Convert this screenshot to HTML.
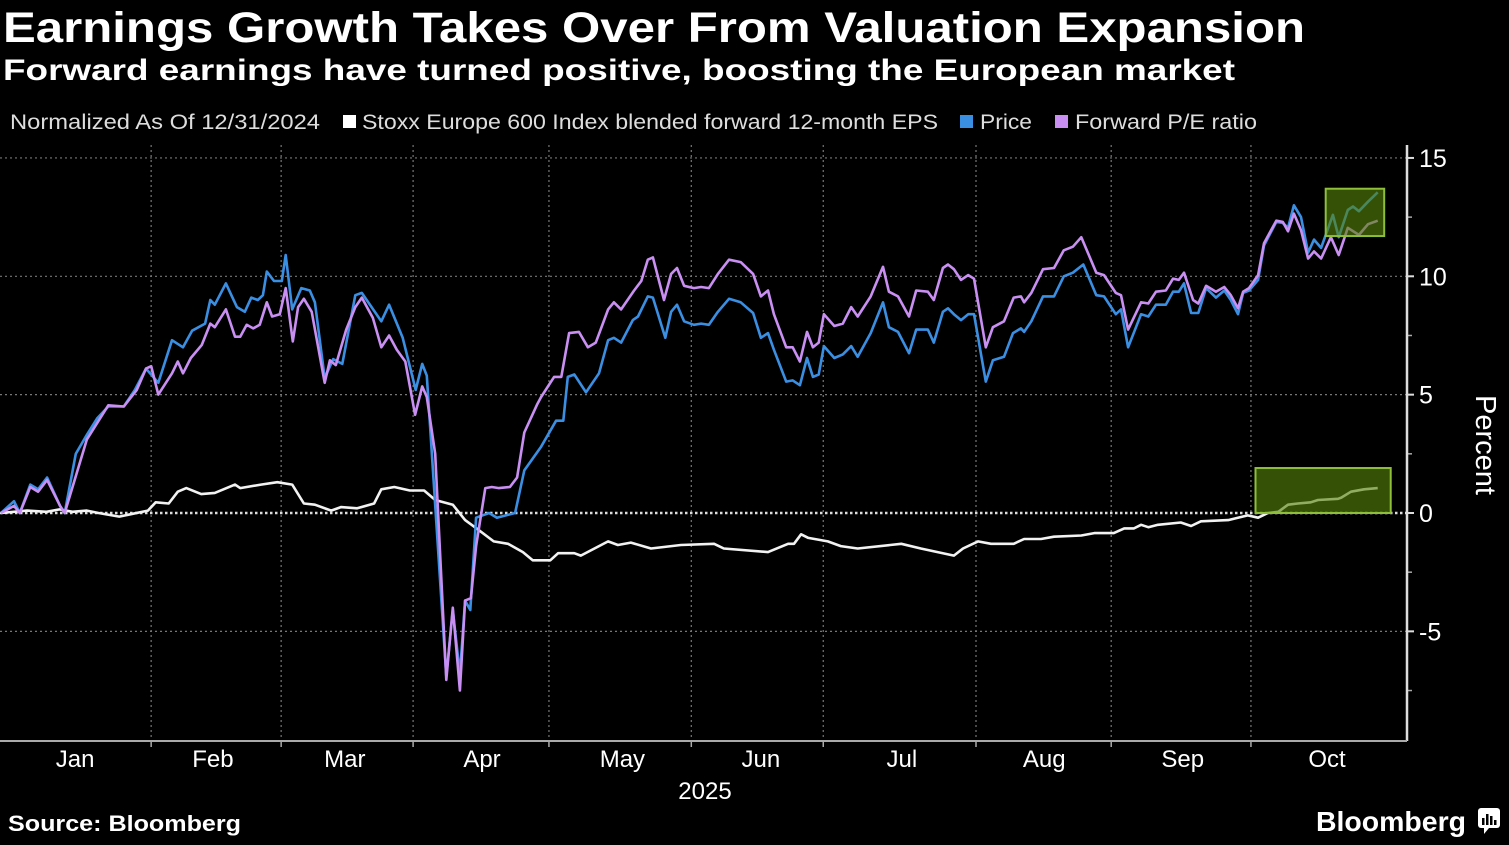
<!DOCTYPE html>
<html><head><meta charset="utf-8"><style>
html,body{margin:0;padding:0;background:#000;}
svg{display:block;font-family:"Liberation Sans",sans-serif;}
</style></head><body>
<svg id="chart" width="1509" height="845" viewBox="0 0 1509 845" xmlns="http://www.w3.org/2000/svg">
<rect x="0" y="0" width="1509" height="845" fill="#000"/>
<text x="3" y="42" fill="#fff" font-size="43" font-weight="bold" textLength="1302" lengthAdjust="spacingAndGlyphs">Earnings Growth Takes Over From Valuation Expansion</text>
<text x="3" y="80" fill="#fff" font-size="30" font-weight="bold" textLength="1232" lengthAdjust="spacingAndGlyphs">Forward earnings have turned positive, boosting the European market</text>
<g font-size="21" fill="#ddd">
<text x="10" y="129" textLength="310" lengthAdjust="spacingAndGlyphs">Normalized As Of 12/31/2024</text>
<rect x="343" y="115" width="13" height="13" fill="#fff"/>
<text x="362" y="129" textLength="576" lengthAdjust="spacingAndGlyphs">Stoxx Europe 600 Index blended forward 12-month EPS</text>
<rect x="960" y="115" width="13" height="13" fill="#3b8fe3"/>
<text x="980" y="129" textLength="52" lengthAdjust="spacingAndGlyphs">Price</text>
<rect x="1055" y="115" width="13" height="13" fill="#c98ff2"/>
<text x="1075" y="129" textLength="182" lengthAdjust="spacingAndGlyphs">Forward P/E ratio</text>
</g>
<g id="grid"></g>
<g id="series"></g>
<g id="overlay"></g>
<g id="axes"></g>
<text transform="translate(1476,445) rotate(90)" text-anchor="middle" fill="#fff" font-size="29">Percent</text>
<text x="705" y="799" text-anchor="middle" fill="#fff" font-size="24">2025</text>
<text x="8" y="831" fill="#fff" font-size="22" font-weight="bold" textLength="233" lengthAdjust="spacingAndGlyphs">Source: Bloomberg</text>
<text x="1316" y="831" fill="#fff" font-size="28" font-weight="bold" textLength="150" lengthAdjust="spacingAndGlyphs">Bloomberg</text>
<g>
<rect x="1478" y="808" width="22" height="20" rx="3" fill="#fff"/>
<path d="M1484 828 L1484 834 L1489 828 Z" fill="#fff"/>
<rect x="1482" y="818" width="2.5" height="7" fill="#000"/><rect x="1486" y="814" width="2.5" height="11" fill="#000"/><rect x="1490" y="816" width="2.5" height="9" fill="#000"/><rect x="1494" y="820" width="2.5" height="5" fill="#000"/>
</g>
</svg>
<script>
// Time in trading days since 12/31/2024
const monthStarts = [23.1, 43.1, 63.4, 84.3, 106.2, 126.5, 150, 170.8, 192.3];
const monthLabels = ["Jan","Feb","Mar","Apr","May","Jun","Jul","Aug","Sep","Oct"];
const monthLabelDays = [11.4, 32.6, 52.9, 74, 95.6, 116.9, 138.6, 160.5, 181.8, 204];
const yTicks = [15, 10, 5, 0, -5];
const yMinorTicks = [12.5, 7.5, 2.5, -2.5, -7.5];

const priceDays = [0,2,2.9,4.5,5.7,7.1,9.1,9.8,11.5,13.2,14.8,16.5,18.9,20.6,22.3,24.2,26.3,28,29.4,31.4,32.2,32.9,34.6,36.3,37.5,38.5,39.5,40.3,40.9,42,43.2,43.8,44.8,46.2,47.5,48.3,49.8,51.1,52.5,54.5,55.5,58.5,59.7,61.8,63.8,64.8,65.5,68.5,69.5,70.6,71.4,72.2,73.1,75.1,76.3,79.1,80.5,83.1,85.4,86.5,87.2,88.2,90,92,93.4,94.3,95.4,97.2,98,99.5,100.3,102.2,103.1,104,105.1,106.6,107.7,108.9,110.3,112,113.8,115.7,116.9,118,118.9,120.8,121.8,122.9,124,124.9,125.8,126.6,128.2,129.5,130.8,131.8,133.8,135.7,136.6,138,139.7,140.8,142.6,143.5,144.9,145.7,146.6,147.7,148.8,149.7,151.5,152.6,154.3,155.7,156.9,157.4,158.5,160.3,162,163.5,164.9,166.5,168.5,169.7,171.5,172.3,173.4,175.4,176.5,177.7,179.2,180.3,181.2,182,183.1,184.2,185.4,186.9,188.2,189.2,190.3,191.1,192,193.4,194.3,196.2,197.2,198,198.9,200,201.1,202,203.1,204.9,205.8,207.2,208,208.9,210.3,211.8];
const priceValues = [0,0.5,0,1.2,1.0,1.5,0.3,0,2.5,3.3,4.0,4.5,4.5,5.2,6.1,5.5,7.3,7.0,7.7,8.0,9.0,8.8,9.7,8.7,8.5,9.1,9.0,9.2,10.2,9.8,9.8,10.9,8.6,9.5,9.4,8.9,5.7,6.5,6.3,9.2,9.3,8.1,8.8,7.4,5.2,6.3,5.8,-6.9,-4.1,-6.8,-3.7,-4.1,-0.2,0,-0.2,0,1.8,2.8,3.9,3.9,5.75,5.85,5.1,5.9,7.3,7.4,7.2,8.15,8.3,9.15,9.1,7.4,8.5,8.8,8.1,7.95,8.0,7.95,8.5,9.05,8.9,8.45,7.4,7.6,6.9,5.55,5.6,5.4,6.55,5.75,5.85,7.05,6.55,6.7,7.05,6.6,7.6,8.9,7.85,7.65,6.75,7.75,7.75,7.2,8.5,8.65,8.4,8.15,8.4,8.4,5.55,6.45,6.6,7.6,7.8,7.65,8.1,9.15,9.15,10.0,10.15,10.5,9.2,9.15,8.4,8.6,7.0,8.4,8.3,8.8,8.8,9.35,9.35,9.7,8.45,8.45,9.5,9.1,9.4,9.0,8.4,9.3,9.4,9.85,11.3,12.3,12.25,12.05,13.0,12.5,11.0,11.55,11.2,12.6,11.65,12.8,12.95,12.75,13.15,13.55];

const peDays = [0,2,2.9,4.5,5.7,7.1,9.1,9.8,13.2,16.5,18.9,20.9,22.3,23.1,24.2,26.3,27.2,28,29.2,30.9,32.2,32.9,34.6,36,36.8,37.8,38.8,39.8,40.9,41.7,42.9,43.8,44.9,45.7,46.6,47.8,49.8,50.6,51.5,53.1,54.5,55.5,57.2,58.5,59.7,60.9,62.2,63.7,64.8,65.5,66.8,68.5,69.5,70.6,71.4,72.3,73.1,74.5,75.5,76.6,78.3,79.4,80.5,82.5,83.1,85.1,86.2,87.4,88.9,90.3,91.5,93.4,94.3,95.4,97.4,98.5,99.5,100.3,102,103.1,104,105.1,106.6,107.7,108.9,110.3,112,113.8,115.7,116.9,118,118.9,120.8,121.8,122.9,124,124.9,125.8,126.6,128.2,129.5,130.8,131.8,133.8,135.7,136.6,138,139.7,140.8,142.6,143.5,144.9,145.7,146.6,147.7,148.8,149.7,151.5,152.6,154.3,155.8,156.9,157.4,158.5,160.3,162,163.5,164.9,166.2,168.5,169.7,171.5,172.3,173.4,175.4,176.5,177.7,179.2,180.3,181.2,182,183.4,184.2,185.4,186.9,188.2,189.2,190.3,191.1,192,193.4,194.3,196.2,197.2,198,198.9,200,201.1,202,203.1,204.6,205.8,207.2,208.9,210.3,211.8];
const peValues = [0,0.3,0,1.1,0.9,1.4,0.3,0,3.1,4.55,4.5,5.2,6.1,6.2,5.0,5.9,6.4,5.9,6.55,7.1,8.0,7.85,8.6,7.45,7.45,7.95,7.8,7.95,8.9,8.3,8.4,9.5,7.25,8.7,9.05,8.5,5.5,6.45,6.25,7.75,8.7,9.1,8.25,7.0,7.5,6.9,6.4,4.15,5.35,4.9,2.5,-7.05,-4.0,-7.5,-3.7,-3.6,-1.4,1.05,1.1,1.05,1.1,1.5,3.4,4.6,4.9,5.75,5.75,7.6,7.65,7.0,7.2,8.6,8.9,8.6,9.4,9.8,10.7,10.8,9.0,10.1,10.35,9.6,9.5,9.55,9.5,10.1,10.7,10.6,10.1,9.15,9.4,8.4,7.0,7.0,6.4,7.65,7.0,7.2,8.4,7.9,8.0,8.7,8.3,9.15,10.4,9.35,9.15,8.3,9.4,9.35,9.0,10.35,10.5,10.3,9.85,10.05,9.9,7.0,7.85,8.1,9.1,9.15,8.9,9.3,10.3,10.35,11.1,11.25,11.65,10.15,10.05,9.3,9.2,7.75,8.9,8.85,9.35,9.4,9.9,9.85,10.15,9.0,8.85,9.6,9.35,9.55,9.2,8.65,9.35,9.5,10.05,11.4,12.35,12.3,11.9,12.65,11.95,10.75,11.05,10.75,11.65,10.9,12.05,11.75,12.2,12.35];

const epsDays = [0,4,7,9,11,13.2,15,18.2,22.6,23.8,25.8,27.2,28.5,30.8,32.9,36,36.8,40,42.5,44.8,46.6,48.3,50.8,52.3,54.8,57.4,58.5,60.5,62.9,65.1,66.8,69.5,71.4,73.4,75.8,78,80.3,81.8,84.5,85.7,88.2,89.2,93.4,94.9,96.9,100,104.6,109.7,111.2,118,121.1,122,123.1,124.2,127.2,129.2,131.8,138.5,141.5,146.6,148,150.3,152.3,155.8,157.4,160,162,166.2,168.2,171.2,172.8,174.3,175.4,176.5,178,181.5,183.1,184.6,188.8,191.8,193.4,194.9,196.5,198,199.5,201.5,202.6,205.7,206.2,207.7,209.7,211.8];
const epsValues = [0,0.1,0.05,0.15,0.05,0.1,0,-0.15,0.1,0.45,0.4,0.9,1.05,0.8,0.85,1.2,1.05,1.2,1.3,1.2,0.4,0.35,0.1,0.25,0.2,0.4,1.0,1.1,0.95,0.95,0.55,0.35,-0.3,-0.7,-1.2,-1.3,-1.65,-2.0,-2.0,-1.7,-1.7,-1.8,-1.2,-1.35,-1.25,-1.5,-1.35,-1.3,-1.5,-1.65,-1.3,-1.3,-0.9,-1.05,-1.2,-1.4,-1.5,-1.3,-1.5,-1.8,-1.5,-1.2,-1.3,-1.3,-1.1,-1.1,-1.0,-0.95,-0.85,-0.85,-0.65,-0.65,-0.5,-0.6,-0.5,-0.4,-0.55,-0.35,-0.3,-0.1,-0.2,0,0.05,0.35,0.4,0.45,0.55,0.6,0.65,0.9,1.0,1.05];

// highlight boxes: [startDay, endDay, lowValue, highValue]
const priceBox = [203.8, 212.8, 11.7, 13.7];
const epsBox = [193, 213.8, 0, 1.9];

const NS = "http://www.w3.org/2000/svg";
const plotL = 0, plotR = 1407, plotT = 145, plotB = 741;
function xScale(d){ return 1 + d * 6.5; }
function yScale(v){ return 513 - v * 23.67; }
function mk(tag, attrs, parent){ const e = document.createElementNS(NS, tag); for (const k in attrs) e.setAttribute(k, attrs[k]); parent.appendChild(e); return e; }

const grid = document.getElementById('grid');
const series = document.getElementById('series');
const overlay = document.getElementById('overlay');
const axes = document.getElementById('axes');

monthStarts.forEach(d => {
  const x = xScale(d);
  const l = mk('line', {x1:x, x2:x, y1:plotT, y2:plotB, stroke:'#777', 'stroke-width':1.2, 'stroke-dasharray':'2,3'}, grid);
  
  
  const t = mk('line', {x1:x, x2:x, y1:plotB, y2:plotB+6, stroke:'#aaa', 'stroke-width':1.5}, axes);
  
  
});
yTicks.forEach(v => {
  const y = yScale(v);
  const l = mk('line', {x1:plotL, x2:plotR, y1:y, y2:y, stroke: v === 0 ? '#ddd' : '#777', 'stroke-width': v === 0 ? 2.5 : 1.2, 'stroke-dasharray': v === 0 ? '2.5,2.5' : '2,3'}, grid);
  
  
  const tk = mk('line', {x1:plotR, x2:plotR+7, y1:y, y2:y, stroke:'#ddd', 'stroke-width':2}, axes);
  
  
  const lb = mk('text', {x:plotR+12, y:y+9, fill:'#fff', 'font-size':25}, axes);
  lb.textContent = String(v);
  
  
});
yMinorTicks.forEach(v => {
  const y = yScale(v);
  if (y < plotT || y > plotB) return;
  const tk = mk('line', {x1:plotR, x2:plotR+5, y1:y, y2:y, stroke:'#aaa', 'stroke-width':1.5}, axes);
  
  
});
const ax = mk('line', {x1:plotR, x2:plotR, y1:plotT, y2:plotB, stroke:'#ddd', 'stroke-width':2.5}, axes);


const bx = mk('line', {x1:plotL, x2:plotR, y1:plotB, y2:plotB, stroke:'#aaa', 'stroke-width':2}, axes);


monthLabels.forEach((m, i) => {
  const t = mk('text', {x:xScale(monthLabelDays[i]), y:767, fill:'#fff', 'font-size':24, 'text-anchor':'middle'}, axes);
  t.textContent = m;
  
  
});

function drawLine(days, vals, color, name){
  const d = days.map((t, i) => (i ? 'L' : 'M') + xScale(t).toFixed(1) + ' ' + yScale(vals[i]).toFixed(1)).join(' ');
  const p = mk('path', {d:d, fill:'none', stroke:color, 'stroke-width':2.6, 'stroke-linejoin':'round'}, series);
  
  
}
drawLine(epsDays, epsValues, '#f2f2f2', 'eps-line');
drawLine(priceDays, priceValues, '#3b8fe3', 'price-line');
drawLine(peDays, peValues, '#c98ff2', 'pe-ratio-line');

function drawBox(b, name){
  const x1 = xScale(b[0]), x2 = xScale(b[1]), y1 = yScale(b[3]), y2 = yScale(b[2]);
  const r = mk('rect', {x:x1, y:y1, width:x2-x1, height:y2-y1, fill:'rgba(85,130,10,0.62)', stroke:'#8fbf3a', 'stroke-width':2}, overlay);
  
  
}
drawBox(priceBox, 'price-highlight-box');
drawBox(epsBox, 'eps-highlight-box');
</script>
</body></html>
